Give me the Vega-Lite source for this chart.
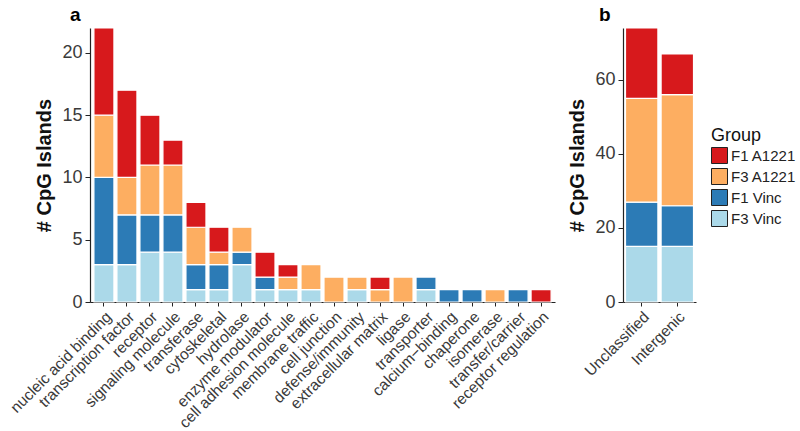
{
  "$schema": "https://vega.github.io/schema/vega-lite/v6.json",
  "padding": {"left": 7, "top": 6, "right": 0, "bottom": 0},
  "background": "white",
  "config": {
    "font": "Liberation Sans",
    "view": {"stroke": null},
    "axis": {"grid": false, "domainColor": "#222", "tickColor": "#222", "labelColor": "#3a3a3a", "titleColor": "#111", "labelFont": "Liberation Sans", "titleFont": "Liberation Sans"},
    "title": {"font": "Liberation Sans", "fontWeight": "bold", "fontSize": 19, "anchor": "start", "frame": "group", "offset": 2}
  },
  "datasets": {
    "a": [
      {"category": "nucleic acid binding", "group": "F3 Vinc", "n": 3},
      {"category": "nucleic acid binding", "group": "F1 Vinc", "n": 7},
      {"category": "nucleic acid binding", "group": "F3 A1221", "n": 5},
      {"category": "nucleic acid binding", "group": "F1 A1221", "n": 7},
      {"category": "transcription factor", "group": "F3 Vinc", "n": 3},
      {"category": "transcription factor", "group": "F1 Vinc", "n": 4},
      {"category": "transcription factor", "group": "F3 A1221", "n": 3},
      {"category": "transcription factor", "group": "F1 A1221", "n": 7},
      {"category": "receptor", "group": "F3 Vinc", "n": 4},
      {"category": "receptor", "group": "F1 Vinc", "n": 3},
      {"category": "receptor", "group": "F3 A1221", "n": 4},
      {"category": "receptor", "group": "F1 A1221", "n": 4},
      {"category": "signaling molecule", "group": "F3 Vinc", "n": 4},
      {"category": "signaling molecule", "group": "F1 Vinc", "n": 3},
      {"category": "signaling molecule", "group": "F3 A1221", "n": 4},
      {"category": "signaling molecule", "group": "F1 A1221", "n": 2},
      {"category": "transferase", "group": "F3 Vinc", "n": 1},
      {"category": "transferase", "group": "F1 Vinc", "n": 2},
      {"category": "transferase", "group": "F3 A1221", "n": 3},
      {"category": "transferase", "group": "F1 A1221", "n": 2},
      {"category": "cytoskeletal", "group": "F3 Vinc", "n": 1},
      {"category": "cytoskeletal", "group": "F1 Vinc", "n": 2},
      {"category": "cytoskeletal", "group": "F3 A1221", "n": 1},
      {"category": "cytoskeletal", "group": "F1 A1221", "n": 2},
      {"category": "hydrolase", "group": "F3 Vinc", "n": 3},
      {"category": "hydrolase", "group": "F1 Vinc", "n": 1},
      {"category": "hydrolase", "group": "F3 A1221", "n": 2},
      {"category": "enzyme modulator", "group": "F3 Vinc", "n": 1},
      {"category": "enzyme modulator", "group": "F1 Vinc", "n": 1},
      {"category": "enzyme modulator", "group": "F1 A1221", "n": 2},
      {"category": "cell adhesion molecule", "group": "F3 Vinc", "n": 1},
      {"category": "cell adhesion molecule", "group": "F3 A1221", "n": 1},
      {"category": "cell adhesion molecule", "group": "F1 A1221", "n": 1},
      {"category": "membrane traffic", "group": "F3 Vinc", "n": 1},
      {"category": "membrane traffic", "group": "F3 A1221", "n": 2},
      {"category": "cell junction", "group": "F3 A1221", "n": 2},
      {"category": "defense/immunity", "group": "F3 Vinc", "n": 1},
      {"category": "defense/immunity", "group": "F3 A1221", "n": 1},
      {"category": "extracellular matrix", "group": "F3 A1221", "n": 1},
      {"category": "extracellular matrix", "group": "F1 A1221", "n": 1},
      {"category": "ligase", "group": "F3 A1221", "n": 2},
      {"category": "transporter", "group": "F3 Vinc", "n": 1},
      {"category": "transporter", "group": "F1 Vinc", "n": 1},
      {"category": "calcium\u2212binding", "group": "F1 Vinc", "n": 1},
      {"category": "chaperone", "group": "F1 Vinc", "n": 1},
      {"category": "isomerase", "group": "F3 A1221", "n": 1},
      {"category": "transfer/carrier", "group": "F1 Vinc", "n": 1},
      {"category": "receptor regulation", "group": "F1 A1221", "n": 1}
    ],
    "b": [
      {"category": "Unclassified", "group": "F3 Vinc", "n": 15},
      {"category": "Unclassified", "group": "F1 Vinc", "n": 12},
      {"category": "Unclassified", "group": "F3 A1221", "n": 28},
      {"category": "Unclassified", "group": "F1 A1221", "n": 19},
      {"category": "Intergenic", "group": "F3 Vinc", "n": 15},
      {"category": "Intergenic", "group": "F1 Vinc", "n": 11},
      {"category": "Intergenic", "group": "F3 A1221", "n": 30},
      {"category": "Intergenic", "group": "F1 A1221", "n": 11}
    ]
  },
  "spacing": 12,
  "resolve": {"legend": {"color": "independent"}},
  "hconcat": [
    {
      "title": {"text": "a", "dx": -20},
      "width": 465,
      "height": 274,
      "data": {"name": "a"},
      "transform": [{"calculate": "indexof(['F3 Vinc','F1 Vinc','F3 A1221','F1 A1221'], datum.group)", "as": "stackorder"}],
      "mark": {"type": "bar", "stroke": "white", "strokeWidth": 1.2},
      "encoding": {
        "x": {
          "field": "category", "type": "nominal",
          "sort": ["nucleic acid binding","transcription factor","receptor","signaling molecule","transferase","cytoskeletal","hydrolase","enzyme modulator","cell adhesion molecule","membrane traffic","cell junction","defense/immunity","extracellular matrix","ligase","transporter","calcium\u2212binding","chaperone","isomerase","transfer/carrier","receptor regulation"],
          "scale": {"paddingInner": 0.13, "paddingOuter": 0.17},
          "axis": {"title": null, "labelAngle": -45, "labelAlign": "right", "labelBaseline": "top", "labelFontSize": 15.5, "tickSize": 4, "labelPadding": 3, "domainWidth": 1.2}
        },
        "y": {
          "field": "n", "type": "quantitative", "stack": "zero",
          "scale": {"domain": [0, 22], "nice": false, "zero": true},
          "axis": {"title": "# CpG Islands", "values": [0, 5, 10, 15, 20], "titleFontSize": 20, "titleFontWeight": "bold", "labelFontSize": 18, "tickSize": 5, "labelPadding": 3, "titlePadding": 7, "domainWidth": 1.2}
        },
        "color": {
          "field": "group", "type": "nominal",
          "scale": {"domain": ["F1 A1221", "F3 A1221", "F1 Vinc", "F3 Vinc"], "range": ["#D7191C", "#FDAE61", "#2C7BB6", "#ABD9E9"]},
          "legend": null
        },
        "order": {"field": "stackorder", "type": "quantitative"}
      }
    },
    {
      "title": {"text": "b", "dx": -24},
      "width": 73,
      "height": 274,
      "data": {"name": "b"},
      "transform": [{"calculate": "indexof(['F3 Vinc','F1 Vinc','F3 A1221','F1 A1221'], datum.group)", "as": "stackorder"}],
      "mark": {"type": "bar", "stroke": "white", "strokeWidth": 1.2},
      "encoding": {
        "x": {
          "field": "category", "type": "nominal",
          "sort": ["Unclassified", "Intergenic"],
          "scale": {"paddingInner": 0.09, "paddingOuter": 0.07},
          "axis": {"title": null, "labelAngle": -45, "labelAlign": "right", "labelBaseline": "top", "labelFontSize": 15.5, "tickSize": 4, "labelPadding": 3, "domainWidth": 1.2}
        },
        "y": {
          "field": "n", "type": "quantitative", "stack": "zero",
          "scale": {"domain": [0, 74], "nice": false, "zero": true},
          "axis": {"title": "# CpG Islands", "values": [0, 20, 40, 60], "titleFontSize": 20, "titleFontWeight": "bold", "labelFontSize": 18, "tickSize": 5, "labelPadding": 3, "titlePadding": 7, "domainWidth": 1.2}
        },
        "color": {
          "field": "group", "type": "nominal",
          "scale": {"domain": ["F1 A1221", "F3 A1221", "F1 Vinc", "F3 Vinc"], "range": ["#D7191C", "#FDAE61", "#2C7BB6", "#ABD9E9"]},
          "legend": {"title": "Group", "orient": "none", "legendX": 88, "legendY": 99, "titleFontSize": 18, "titleFontWeight": "normal", "titleColor": "#111", "labelFontSize": 15, "labelColor": "#222", "symbolType": "square", "symbolSize": 256, "symbolStrokeColor": "#222", "symbolStrokeWidth": 1, "rowPadding": 0, "labelOffset": 3, "titlePadding": 2}
        },
        "order": {"field": "stackorder", "type": "quantitative"}
      }
    }
  ]
}
